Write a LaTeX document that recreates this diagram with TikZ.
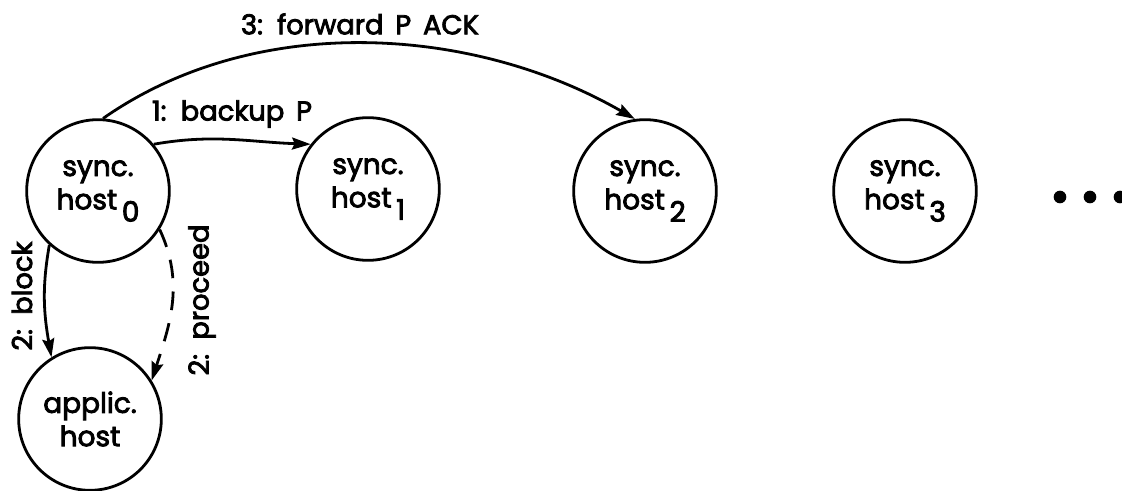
\documentclass[tikz,border=0pt]{standalone}
\usepackage{fontspec}
\setmainfont{Poppins}[FakeBold=3]
\usetikzlibrary{arrows.meta}

\tikzset{
  host/.style={circle, draw, line width=2.1pt, minimum size=107pt, inner sep=0pt,
    align=center, font=\fontsize{21}{25}\selectfont},
  arr/.style={line width=2.1pt, -{Stealth[length=14pt, width=9pt, inset=2pt]}},
  dasharr/.style={arr, dash pattern=on 14pt off 10pt},
  lbl/.style={font=\fontsize{20.5}{24}\selectfont, inner sep=1pt},
  dot/.style={circle, fill, minimum size=9.5pt, inner sep=0pt}
}
\newcommand{\hsub}[1]{\,\raisebox{-0.8ex}{#1}}

\begin{document}
\begin{tikzpicture}[x=0.75pt, y=-0.75pt]
  \useasboundingbox (0,0) rectangle (1122,491);

  % hosts
  \node[host] (h0) at (98,191) {sync.\\host\hsub{0}};
  \node[host] (h1) at (368,189) {sync.\\host\hsub{1}};
  \node[host] (h2) at (645,191) {sync.\\host\hsub{2}};
  \node[host] (h3) at (905,191) {sync.\\host\hsub{3}};
  \node[host] (app) at (90,419) {applic.\\host};

  % continuation dots
  \node[dot] (d1) at (1060,197) {};
  \node[dot] (d2) at (1090,197) {};
  \node[dot] (d3) at (1120,197) {};

  % messages between hosts
  \draw[arr] (h0.86) to[out=35, in=150, looseness=0.9] (h2.98);
  \draw[arr] (h0.40) to[out=10, in=178] (h1.142);
  \draw[arr] (h0.228) to[out=-100, in=100] (app.122);
  \draw[dasharr] (h0.-32) to[out=-65, in=72] (app.32);

  % labels
  \node[lbl] (l3) at (360,24) {3:\, forward\, P\, ACK};
  \node[lbl] (l1) at (232,114) {1:\, backup\, P};
  \node[lbl, rotate=90] (l2a) at (22,296) {2:\, block};
  \node[lbl, rotate=90] (l2b) at (202,300) {2:\, proceed};
\end{tikzpicture}
\end{document}
